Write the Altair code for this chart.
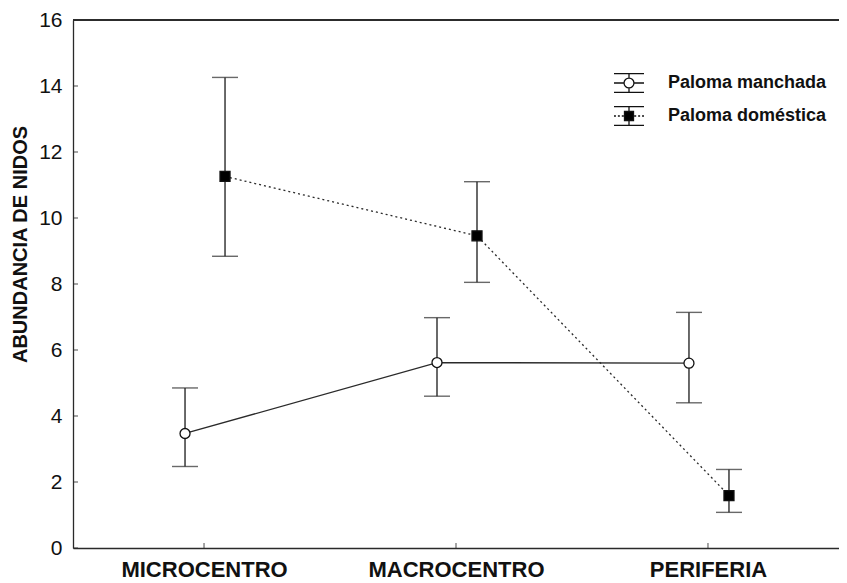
import altair as alt
import pandas as pd

sitios = ["MICROCENTRO", "MACROCENTRO", "PERIFERIA"]
series = ["Paloma manchada", "Paloma doméstica"]

manchada_media = [3.47, 5.62, 5.60]
manchada_lo = [2.47, 4.60, 4.40]
manchada_hi = [4.85, 6.98, 7.14]

domestica_media = [11.26, 9.46, 1.59]
domestica_lo = [8.84, 8.05, 1.08]
domestica_hi = [14.26, 11.10, 2.38]

y_ticks = [0, 2, 4, 6, 8, 10, 12, 14, 16]

df_m = pd.DataFrame({"sitio": sitios, "serie": series[0], "media": manchada_media,
                     "lo": manchada_lo, "hi": manchada_hi})
df_d = pd.DataFrame({"sitio": sitios, "serie": series[1], "media": domestica_media,
                     "lo": domestica_lo, "hi": domestica_hi})
df_all = pd.concat([df_m, df_d], ignore_index=True)
df_yt = pd.DataFrame({"v": y_ticks})

FONT = "Liberation Sans"
INK = "#2a2a2a"
W, H = 766, 528

x_enc = alt.X("sitio:N", sort=sitios,
              scale=alt.Scale(type="point", padding=0.52),
              axis=alt.Axis(title=None, labelAngle=0, labelFontSize=22, labelFontWeight="bold",
                            labelColor="#111", labelFont=FONT, labelPadding=11, ticks=False,
                            domainColor=INK, domainWidth=1.3))
y_scale = alt.Scale(domain=[0, 16], nice=False, zero=True)
y_axis = alt.Axis(title="ABUNDANCIA DE NIDOS", values=y_ticks, grid=False, ticks=False,
                  labelFontSize=21, labelFont=FONT, labelColor="#111", labelPadding=11,
                  titleFontSize=20, titleFont=FONT, titleFontWeight="bold", titleColor="#111",
                  titleY=224, titlePadding=8, domainColor=INK, domainWidth=1.3)


def serie_layers(df, off, filled_color, shape, dash):
    base = alt.Chart(df)
    rule = base.mark_rule(color=INK, strokeWidth=1.4, xOffset=off).encode(
        x=x_enc, y=alt.Y("lo:Q", scale=y_scale, axis=y_axis), y2="hi:Q")
    cap_hi = base.mark_tick(color=INK, thickness=1.4, size=26, xOffset=off).encode(
        x=x_enc, y=alt.Y("hi:Q", scale=y_scale))
    cap_lo = base.mark_tick(color=INK, thickness=1.4, size=26, xOffset=off).encode(
        x=x_enc, y=alt.Y("lo:Q", scale=y_scale))
    line_kw = dict(color=INK, strokeWidth=1.3, xOffset=off)
    if dash:
        line_kw["strokeDash"] = dash
    line = base.mark_line(**line_kw).encode(
        x=x_enc, y=alt.Y("media:Q", scale=y_scale))
    pts = base.mark_point(shape=shape, filled=True, fill=filled_color, stroke="#111",
                          strokeWidth=1.3, size=100, opacity=1, xOffset=off).encode(
        x=x_enc, y=alt.Y("media:Q", scale=y_scale))
    return [rule, cap_hi, cap_lo, line, pts]


CIRC_PATH = ("M-1,-0.63H1M-1,0.63H1M0,-0.63V-0.33M0,0.33V0.63M-1,0H-0.33M0.33,0H1"
             "M0.33,0A0.33,0.33 0 1 1 -0.33,0A0.33,0.33 0 1 1 0.33,0Z")
SQ_PATH = ("M-1,-0.63H1M-1,0.63H1M0,-0.63V-0.3M0,0.3V0.63"
           "M-1,0H-0.87M-0.74,0H-0.61M-0.48,0H-0.35"
           "M0.35,0H0.48M0.61,0H0.74M0.87,0H1"
           "M-0.3,-0.3H0.3V0.3H-0.3Z")

leg = alt.Legend(title=None, orient="none", legendX=540, legendY=47, symbolSize=900,
                 labelFontSize=18, labelFont=FONT, labelFontWeight="bold", labelColor="#111",
                 labelOffset=23, rowPadding=4, padding=0,
                 symbolStrokeColor="#111", symbolStrokeWidth=1.3)

legend_layer = alt.Chart(df_all).transform_filter("datum.media < 0").mark_point(
    filled=True, strokeWidth=1.3, opacity=1).encode(
    x=x_enc, y=alt.Y("media:Q", scale=y_scale),
    shape=alt.Shape("serie:N", scale=alt.Scale(domain=series, range=[CIRC_PATH, SQ_PATH]),
                    legend=leg),
    fill=alt.Fill("serie:N", scale=alt.Scale(domain=series, range=["white", "black"]),
                  legend=leg),
    stroke=alt.Stroke("serie:N", scale=alt.Scale(domain=series, range=["#111", "#111"]),
                      legend=leg),
)

top_border = alt.Chart(df_m).mark_rule(color=INK, strokeWidth=1.3).encode(
    x=alt.value(0), x2=alt.value(W), y=alt.value(0))

# inward tick marks (as in the reference)
y_inticks = alt.Chart(df_yt).mark_tick(color=INK, thickness=1.2, size=5,
                                       orient="horizontal").encode(
    y=alt.Y("v:Q", scale=y_scale), x=alt.value(2.5))
x_inticks = alt.Chart(df_m).mark_tick(color=INK, thickness=1.2, size=5,
                                      orient="vertical").encode(
    x=x_enc, y=alt.value(H - 2.5))

layers = (serie_layers(df_m, -19, "white", "circle", None)
          + serie_layers(df_d, 21, "black", "square", [2, 3])
          + [y_inticks, x_inticks, legend_layer, top_border])

chart = alt.layer(*layers).properties(
    width=W, height=H,
    background="white",
    autosize=alt.AutoSizeParams(type="none"),
    padding={"left": 65, "top": 12, "right": 0, "bottom": 34},
).configure_view(stroke=None)

chart.save("out.html", embed_options={"renderer": "svg", "actions": False})
